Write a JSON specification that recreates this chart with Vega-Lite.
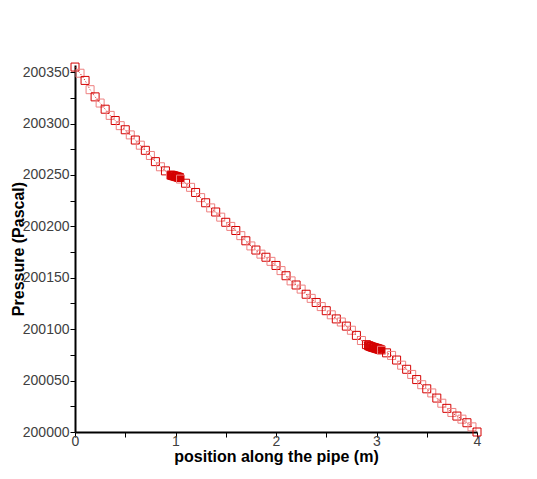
{
  "$schema": "https://vega.github.io/schema/vega-lite/v6.json",
  "width": 402,
  "height": 367,
  "autosize": "none",
  "padding": {"left": 75, "top": 65, "right": 60, "bottom": 47},
  "background": "white",
  "config": {
    "view": {"stroke": null},
    "font": "Liberation Sans",
    "axis": {
      "grid": false,
      "domainColor": "black",
      "domainWidth": 2,
      "tickColor": "black",
      "tickWidth": 1,
      "tickSize": 5,
      "labelColor": "#404040",
      "labelFontSize": 14,
      "labelFont": "Liberation Sans",
      "labelOverlap": false,
      "labelFlush": false,
      "labelBound": false,
      "titleFont": "Liberation Sans",
      "titleFontSize": 16,
      "titleFontWeight": "bold",
      "titleColor": "black"
    }
  },
  "data": {"values": [
    {"position": 0, "pressure": 200355, "series": "a"},
    {"position": 0.05, "pressure": 200349, "series": "b"},
    {"position": 0.1, "pressure": 200342, "series": "a"},
    {"position": 0.15, "pressure": 200333, "series": "b"},
    {"position": 0.2, "pressure": 200326, "series": "a"},
    {"position": 0.25, "pressure": 200320, "series": "b"},
    {"position": 0.3, "pressure": 200314, "series": "a"},
    {"position": 0.35, "pressure": 200308, "series": "b"},
    {"position": 0.4, "pressure": 200303, "series": "a"},
    {"position": 0.45, "pressure": 200298, "series": "b"},
    {"position": 0.5, "pressure": 200294, "series": "a"},
    {"position": 0.55, "pressure": 200289, "series": "b"},
    {"position": 0.6, "pressure": 200284, "series": "a"},
    {"position": 0.65, "pressure": 200279, "series": "b"},
    {"position": 0.7, "pressure": 200274, "series": "a"},
    {"position": 0.75, "pressure": 200269, "series": "b"},
    {"position": 0.8, "pressure": 200263, "series": "a"},
    {"position": 0.85, "pressure": 200258, "series": "b"},
    {"position": 0.9, "pressure": 200254, "series": "a"},
    {"position": 0.95, "pressure": 200250, "series": "b"},
    {"position": 0.96, "pressure": 200249.8, "series": "a"},
    {"position": 0.97, "pressure": 200249.5, "series": "a"},
    {"position": 0.98, "pressure": 200249.2, "series": "a"},
    {"position": 0.99, "pressure": 200249.0, "series": "a"},
    {"position": 1.0, "pressure": 200248.7, "series": "a"},
    {"position": 1.01, "pressure": 200248.4, "series": "a"},
    {"position": 1.02, "pressure": 200248.1, "series": "a"},
    {"position": 1.03, "pressure": 200247.8, "series": "a"},
    {"position": 1.04, "pressure": 200247.5, "series": "a"},
    {"position": 1.05, "pressure": 200246, "series": "b"},
    {"position": 1.1, "pressure": 200242, "series": "a"},
    {"position": 1.15, "pressure": 200238, "series": "b"},
    {"position": 1.2, "pressure": 200233, "series": "a"},
    {"position": 1.25, "pressure": 200228, "series": "b"},
    {"position": 1.3, "pressure": 200223, "series": "a"},
    {"position": 1.35, "pressure": 200218, "series": "b"},
    {"position": 1.4, "pressure": 200214, "series": "a"},
    {"position": 1.45, "pressure": 200209, "series": "b"},
    {"position": 1.5, "pressure": 200204, "series": "a"},
    {"position": 1.55, "pressure": 200200, "series": "b"},
    {"position": 1.6, "pressure": 200196, "series": "a"},
    {"position": 1.65, "pressure": 200191, "series": "b"},
    {"position": 1.7, "pressure": 200186, "series": "a"},
    {"position": 1.75, "pressure": 200181, "series": "b"},
    {"position": 1.8, "pressure": 200177, "series": "a"},
    {"position": 1.85, "pressure": 200173, "series": "b"},
    {"position": 1.9, "pressure": 200170, "series": "a"},
    {"position": 1.95, "pressure": 200166, "series": "b"},
    {"position": 2.0, "pressure": 200162, "series": "a"},
    {"position": 2.05, "pressure": 200157, "series": "b"},
    {"position": 2.1, "pressure": 200152, "series": "a"},
    {"position": 2.15, "pressure": 200147, "series": "b"},
    {"position": 2.2, "pressure": 200143, "series": "a"},
    {"position": 2.25, "pressure": 200139, "series": "b"},
    {"position": 2.3, "pressure": 200134, "series": "a"},
    {"position": 2.35, "pressure": 200130, "series": "b"},
    {"position": 2.4, "pressure": 200126, "series": "a"},
    {"position": 2.45, "pressure": 200122, "series": "b"},
    {"position": 2.5, "pressure": 200118, "series": "a"},
    {"position": 2.55, "pressure": 200114, "series": "b"},
    {"position": 2.6, "pressure": 200110, "series": "a"},
    {"position": 2.65, "pressure": 200107, "series": "b"},
    {"position": 2.7, "pressure": 200103, "series": "a"},
    {"position": 2.75, "pressure": 200099, "series": "b"},
    {"position": 2.8, "pressure": 200094, "series": "a"},
    {"position": 2.85, "pressure": 200089, "series": "b"},
    {"position": 2.9, "pressure": 200085, "series": "a"},
    {"position": 2.92, "pressure": 200084, "series": "a"},
    {"position": 2.93, "pressure": 200083.6, "series": "a"},
    {"position": 2.94, "pressure": 200083.2, "series": "a"},
    {"position": 2.95, "pressure": 200082.8, "series": "a"},
    {"position": 2.96, "pressure": 200082.5, "series": "a"},
    {"position": 2.97, "pressure": 200082.2, "series": "a"},
    {"position": 2.98, "pressure": 200081.9, "series": "a"},
    {"position": 2.99, "pressure": 200081.6, "series": "a"},
    {"position": 3.0, "pressure": 200081.3, "series": "a"},
    {"position": 3.01, "pressure": 200081.0, "series": "a"},
    {"position": 3.02, "pressure": 200080.7, "series": "a"},
    {"position": 3.03, "pressure": 200080.4, "series": "a"},
    {"position": 3.04, "pressure": 200080.1, "series": "a"},
    {"position": 3.05, "pressure": 200079.5, "series": "b"},
    {"position": 3.1, "pressure": 200077, "series": "a"},
    {"position": 3.15, "pressure": 200074.5, "series": "b"},
    {"position": 3.2, "pressure": 200070, "series": "a"},
    {"position": 3.25, "pressure": 200065, "series": "b"},
    {"position": 3.3, "pressure": 200061, "series": "a"},
    {"position": 3.35, "pressure": 200056, "series": "b"},
    {"position": 3.4, "pressure": 200051, "series": "a"},
    {"position": 3.45, "pressure": 200046, "series": "b"},
    {"position": 3.5, "pressure": 200042, "series": "a"},
    {"position": 3.55, "pressure": 200038, "series": "b"},
    {"position": 3.6, "pressure": 200033, "series": "a"},
    {"position": 3.65, "pressure": 200028, "series": "b"},
    {"position": 3.7, "pressure": 200023, "series": "a"},
    {"position": 3.75, "pressure": 200019, "series": "b"},
    {"position": 3.8, "pressure": 200015.5, "series": "a"},
    {"position": 3.85, "pressure": 200012.5, "series": "b"},
    {"position": 3.9, "pressure": 200009, "series": "a"},
    {"position": 3.95, "pressure": 200005, "series": "b"},
    {"position": 4.0, "pressure": 200000, "series": "a"}
  ]},
  "encoding": {
    "x": {
      "field": "position", "type": "quantitative",
      "scale": {"domain": [0, 4], "nice": false, "zero": false},
      "axis": {
        "title": "position along the pipe (m)",
        "values": [0, 0.5, 1, 1.5, 2, 2.5, 3, 3.5, 4],
        "format": "~g",
        "labelExpr": "datum.value % 1 == 0 ? datum.label : ''",
        "labelPadding": -3,
        "titleY": 16,
        "titleBaseline": "top"
      }
    },
    "y": {
      "field": "pressure", "type": "quantitative",
      "scale": {"domain": [200000, 200357], "nice": false, "zero": false},
      "axis": {
        "title": "Pressure (Pascal)",
        "values": [200000, 200025, 200050, 200075, 200100, 200125, 200150, 200175, 200200, 200225, 200250, 200275, 200300, 200325, 200350],
        "format": "d",
        "labelExpr": "datum.value % 50 == 0 ? datum.label : ''",
        "labelPadding": 1,
        "titleAngle": -90,
        "titleX": -52,
        "titleBaseline": "alphabetic"
      }
    }
  },
  "layer": [
    {
      "mark": {"type": "line", "color": "#cc0000", "strokeWidth": 1, "strokeDash": [1, 2]},
      "encoding": {"order": {"field": "position", "type": "quantitative"}}
    },
    {
      "mark": {"type": "point", "shape": "square", "size": 64, "filled": false, "strokeWidth": 1, "opacity": 1},
      "encoding": {
        "color": {"field": "series", "type": "nominal", "scale": {"domain": ["a", "b"], "range": ["#d40000", "#ee8080"]}, "legend": null}
      }
    }
  ]
}
